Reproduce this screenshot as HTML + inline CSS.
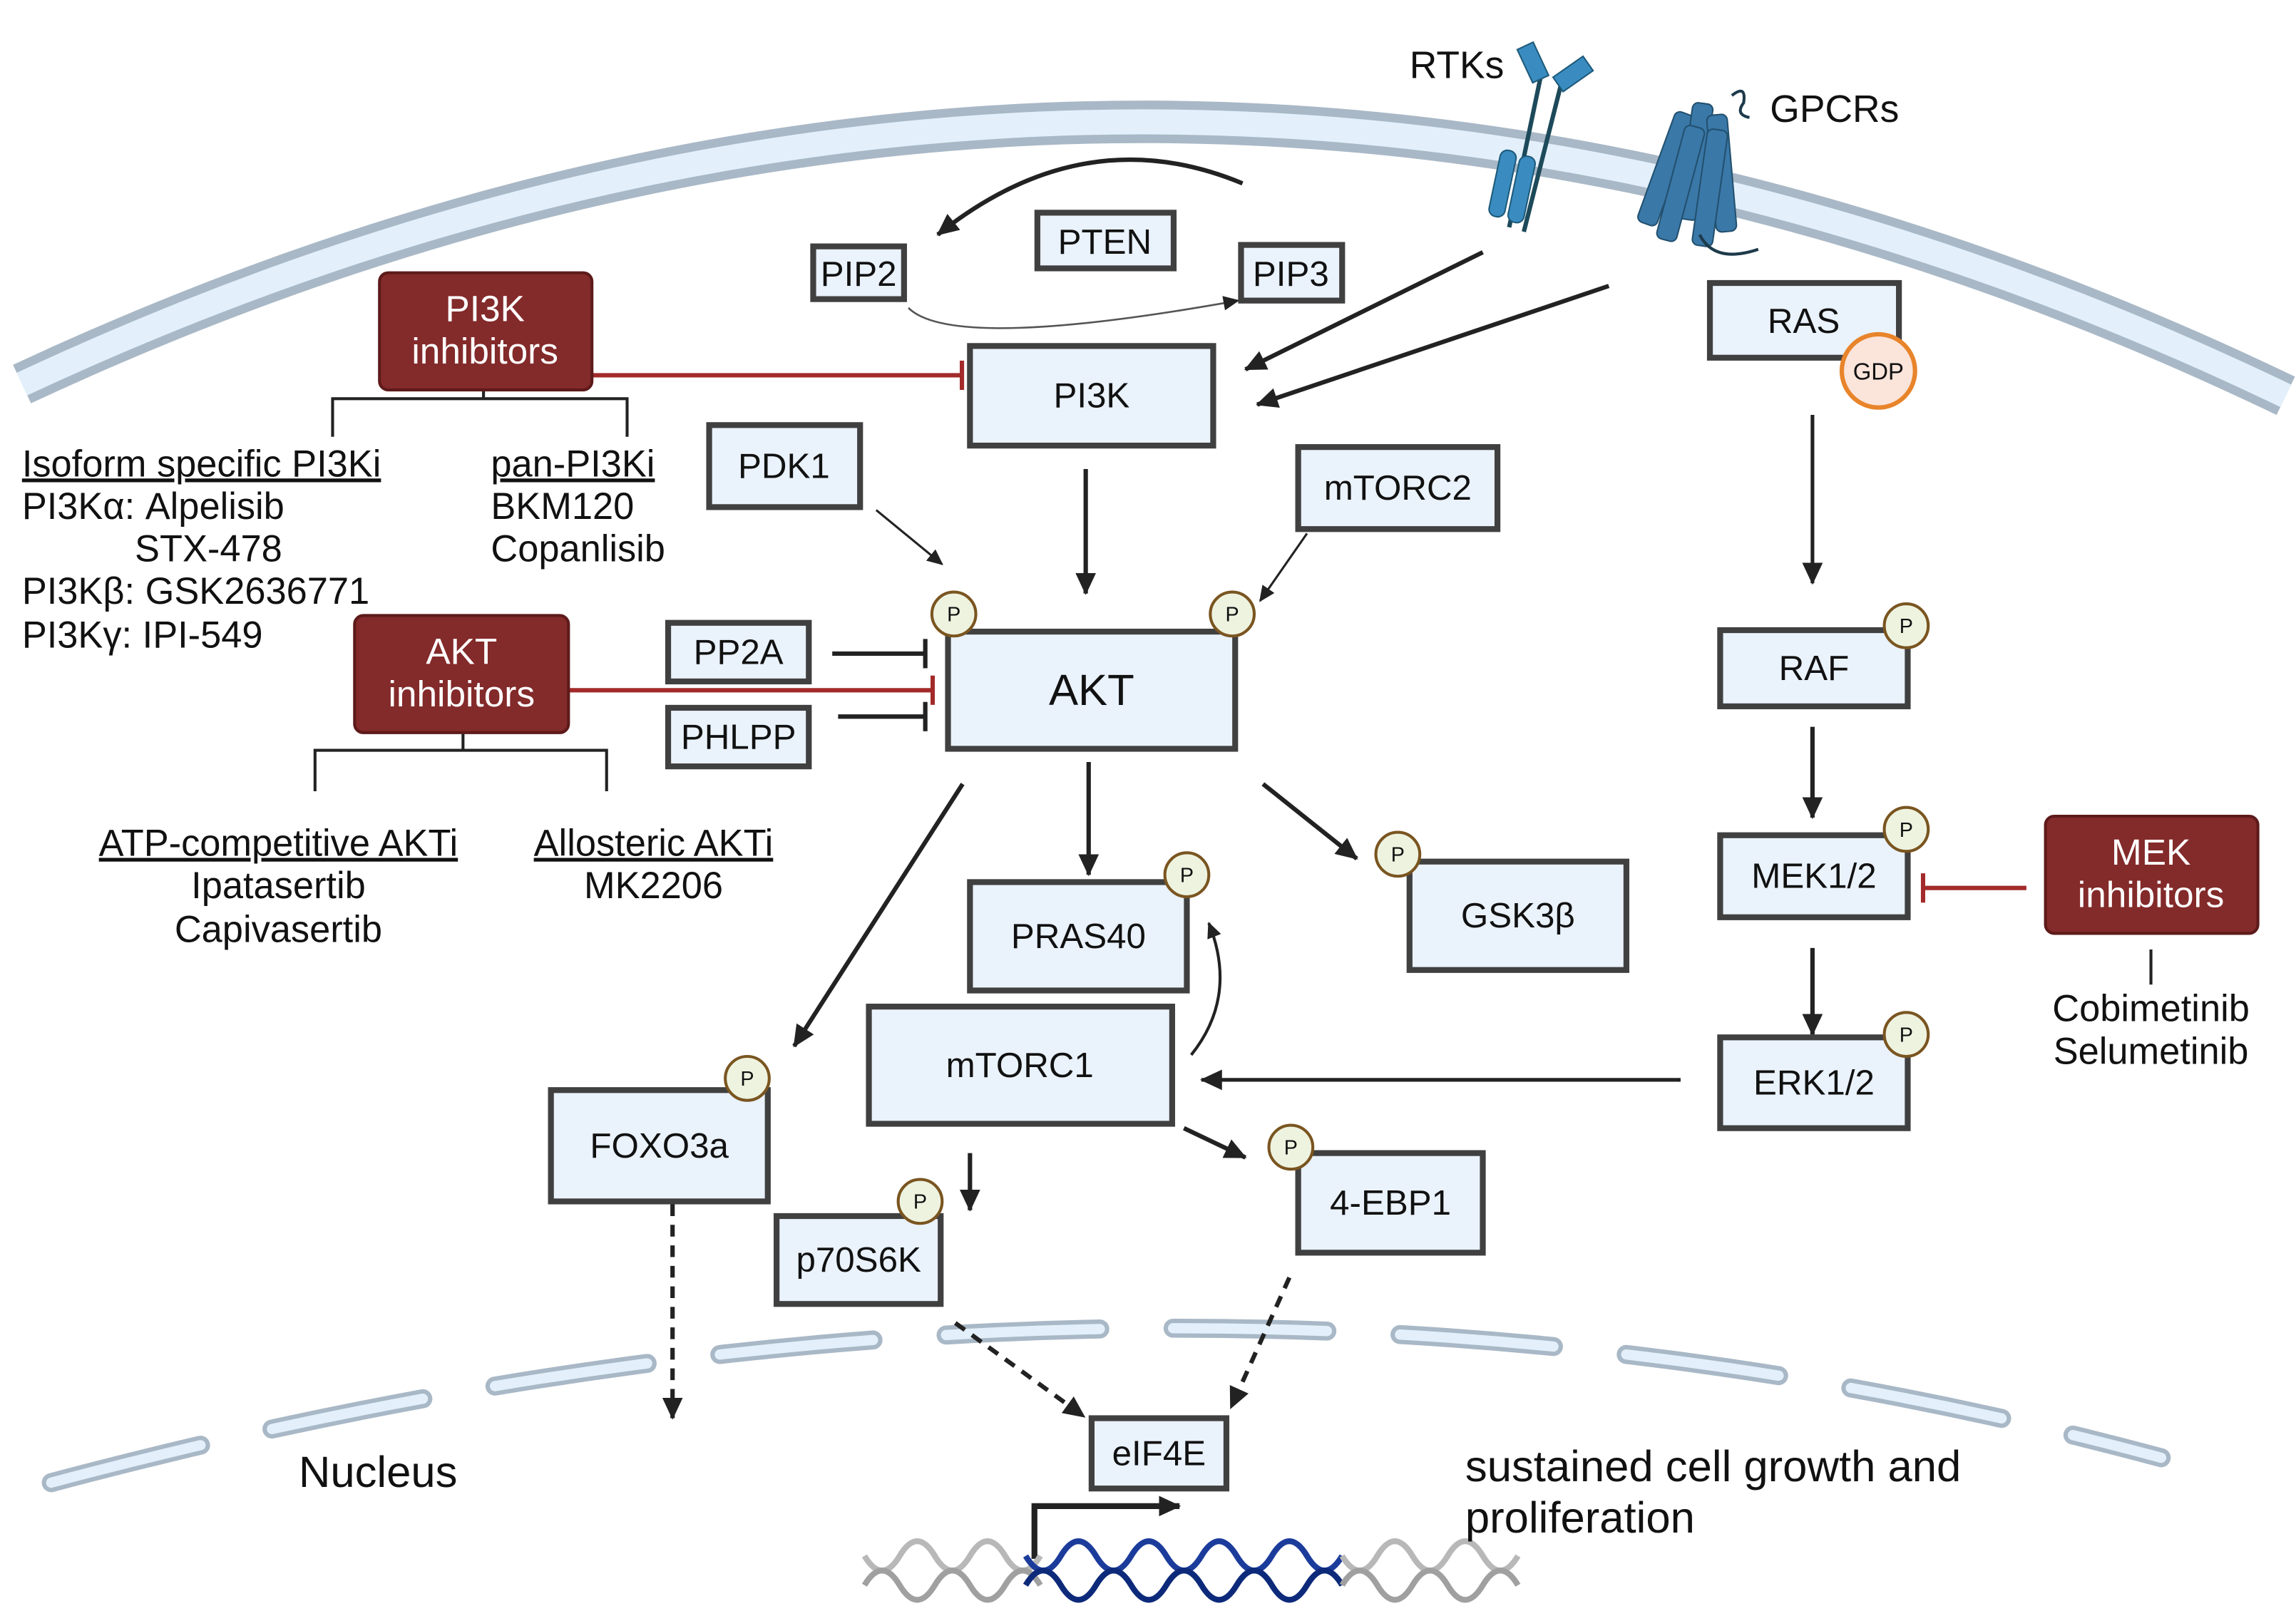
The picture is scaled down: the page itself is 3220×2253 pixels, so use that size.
<!DOCTYPE html>
<html><head><meta charset="utf-8"><style>html,body{margin:0;padding:0;background:#fff}svg{display:block}text{font-family:"Liberation Sans",sans-serif;fill:#111}</style></head><body>
<svg width="3220" height="2253" viewBox="0 0 1567 1096" xmlns="http://www.w3.org/2000/svg">
<defs>
<marker id="a" markerUnits="userSpaceOnUse" markerWidth="20" markerHeight="20" refX="14" refY="8" orient="auto"><path d="M0,1 L15,8 L0,15 z" fill="#222"/></marker>
<marker id="s" markerUnits="userSpaceOnUse" markerWidth="14" markerHeight="14" refX="10" refY="6" orient="auto"><path d="M0,1 L11,6 L0,11 z" fill="#222"/></marker>
<marker id="t" markerUnits="userSpaceOnUse" markerWidth="6" markerHeight="24" refX="2" refY="12" orient="auto"><rect x="0" y="2" width="3" height="20" fill="#222"/></marker>
<marker id="r" markerUnits="userSpaceOnUse" markerWidth="6" markerHeight="24" refX="2" refY="12" orient="auto"><rect x="0" y="2" width="3" height="20" fill="#a32a2a"/></marker>
</defs>
<rect width="1567" height="1096" fill="#fff"/>
<path d="M15,262 Q790,-100 1560,270" fill="none" stroke="#a9b8c6" stroke-width="29"/>
<path d="M15,262 Q790,-100 1560,270" fill="none" stroke="#e3f0fb" stroke-width="17"/>
<path d="M35,1012 Q790,810 1475,995" fill="none" stroke="#a9b8c6" stroke-width="13" stroke-dasharray="105 50" stroke-linecap="round"/>
<path d="M35,1012 Q790,810 1475,995" fill="none" stroke="#e3f0fb" stroke-width="7" stroke-dasharray="105 50" stroke-linecap="round"/>
<g stroke="#1d4a5a" stroke-width="3" fill="none"><line x1="1053" y1="45" x2="1030" y2="155"/><line x1="1066" y1="55" x2="1040" y2="158"/></g>
<g fill="#3a8cc0" stroke="#1d5a7a" stroke-width="1">
<rect x="1040" y="30" width="12" height="25" transform="rotate(-25 1046 42)"/>
<rect x="1068" y="38" width="12" height="25" transform="rotate(55 1074 50)"/>
<rect x="1020" y="102" width="11" height="46" rx="5" transform="rotate(12 1025 125)"/>
<rect x="1033" y="106" width="11" height="46" rx="5" transform="rotate(12 1038 129)"/>
</g>
<g fill="#3a78a8" stroke="#22506e" stroke-width="1">
<rect x="1130" y="75" width="14" height="80" rx="4" transform="rotate(20 1137 115)"/>
<rect x="1150" y="70" width="14" height="80" rx="4" transform="rotate(8 1157 110)"/>
<rect x="1168" y="78" width="14" height="80" rx="4" transform="rotate(-5 1175 118)"/>
<rect x="1140" y="85" width="14" height="80" rx="4" transform="rotate(15 1147 125)"/>
<rect x="1160" y="88" width="14" height="80" rx="4" transform="rotate(8 1167 128)"/>
</g>
<path d="M1182,65 q10,-8 8,5 q-6,8 4,10 M1160,160 q10,20 40,10" fill="none" stroke="#1d3a4a" stroke-width="2"/>
<text x="962" y="53" font-size="26">RTKs</text>
<text x="1208" y="83" font-size="26">GPCRs</text>
<g stroke="#222" stroke-width="3" fill="none">
<path d="M848,125 Q740,80 640,160" marker-end="url(#a)"/>
<line x1="1012" y1="172" x2="850" y2="252" marker-end="url(#a)"/>
<line x1="1098" y1="195" x2="858" y2="276" marker-end="url(#a)"/>
<line x1="741" y1="320" x2="741" y2="405" marker-end="url(#a)"/>
<line x1="598" y1="348" x2="643" y2="385" stroke-width="1.5" marker-end="url(#s)"/>
<line x1="892" y1="364" x2="860" y2="410" stroke-width="1.5" marker-end="url(#s)"/>
<line x1="568" y1="446" x2="632" y2="446" marker-end="url(#t)"/>
<line x1="572" y1="489" x2="632" y2="489" marker-end="url(#t)"/>
<line x1="743" y1="520" x2="743" y2="597" marker-end="url(#a)"/>
<line x1="862" y1="535" x2="926" y2="586" marker-end="url(#a)"/>
<line x1="657" y1="535" x2="542" y2="714" marker-end="url(#a)"/>
<path d="M813,720 Q845,680 825,630" stroke-width="2" marker-end="url(#s)"/>
<line x1="1147" y1="737" x2="820" y2="737" stroke-width="2.5" marker-end="url(#a)"/>
<line x1="1237" y1="283" x2="1237" y2="398" stroke-width="2.5" marker-end="url(#a)"/>
<line x1="1237" y1="496" x2="1237" y2="558" marker-end="url(#a)"/>
<line x1="1237" y1="647" x2="1237" y2="706" marker-end="url(#a)"/>
<line x1="662" y1="787" x2="662" y2="826" marker-end="url(#a)"/>
<line x1="808" y1="770" x2="850" y2="790" marker-end="url(#a)"/>
<g stroke-dasharray="8 6" stroke-width="3">
<line x1="459" y1="822" x2="459" y2="968" marker-end="url(#a)"/>
<line x1="652" y1="903" x2="740" y2="967" marker-end="url(#a)"/>
<line x1="880" y1="872" x2="840" y2="961" marker-end="url(#a)"/>
</g>
<path d="M706,1064 V1028 H805" stroke-width="4" marker-end="url(#a)"/>
<path d="M330,266 V272 M227,298 V272 H428 V298 M316,500 V512 M215,540 V512 H414 V540 M1468,648 V672" stroke-width="2"/>
</g>
<path d="M620,210 Q650,240 845,205" fill="none" stroke="#555" stroke-width="1.3" marker-end="url(#s)"/>
<g stroke="#a32a2a" stroke-width="3" fill="none">
<line x1="404" y1="256" x2="657" y2="256" marker-end="url(#r)"/>
<line x1="388" y1="471" x2="637" y2="471" marker-end="url(#r)"/>
<line x1="1383" y1="606" x2="1312" y2="606" marker-end="url(#r)"/>
</g>
<g fill="none" stroke-width="4">
<path d="M590,1062 q12,20 24,0 t24,0 t24,0 t24,0 t24,0" stroke="#b8b8b8"/>
<path d="M590,1082 q12,-20 24,0 t24,0 t24,0 t24,0 t24,0" stroke="#a0a0a0"/>
<path d="M700,1062 q12,20 24,0 t24,0 t24,0 t24,0 t24,0 t24,0 t24,0 t24,0 t24,0" stroke="#1c3c9c"/>
<path d="M700,1082 q12,-20 24,0 t24,0 t24,0 t24,0 t24,0 t24,0 t24,0 t24,0 t24,0" stroke="#0d2a7a"/>
<path d="M916,1062 q12,20 24,0 t24,0 t24,0 t24,0 t24,0" stroke="#b8b8b8"/>
<path d="M916,1082 q12,-20 24,0 t24,0 t24,0 t24,0 t24,0" stroke="#a0a0a0"/>
</g>
<g fill="#eaf2fc" stroke="#404040" stroke-width="4">
<rect x="555" y="168" width="62" height="36"/>
<rect x="708" y="145" width="93" height="38"/>
<rect x="847" y="167" width="69" height="38"/>
<rect x="662" y="236" width="166" height="68"/>
<rect x="1167" y="193" width="129" height="51"/>
<rect x="484" y="290" width="103" height="56"/>
<rect x="886" y="305" width="136" height="56"/>
<rect x="647" y="431" width="196" height="80"/>
<rect x="456" y="425" width="96" height="40"/>
<rect x="456" y="483" width="96" height="40"/>
<rect x="1174" y="430" width="128" height="52"/>
<rect x="1174" y="570" width="128" height="56"/>
<rect x="1174" y="708" width="128" height="62"/>
<rect x="662" y="602" width="148" height="74"/>
<rect x="962" y="588" width="148" height="74"/>
<rect x="593" y="687" width="207" height="80"/>
<rect x="376" y="744" width="148" height="76"/>
<rect x="530" y="830" width="112" height="60"/>
<rect x="886" y="787" width="126" height="68"/>
<rect x="745" y="968" width="92" height="48"/>
</g>
<g fill="#832a2a" stroke="#5e1a1a" stroke-width="2">
<rect x="259" y="186" width="145" height="80" rx="6"/>
<rect x="242" y="420" width="146" height="80" rx="6"/>
<rect x="1396" y="557" width="145" height="80" rx="6"/>
</g>
<circle cx="1282" cy="253" r="25" fill="#fbe4da" stroke="#e8842a" stroke-width="3"/>
<g fill="#eef3e0" stroke="#7a5520" stroke-width="2">
<circle cx="651" cy="419" r="15"/><circle cx="841" cy="419" r="15"/>
<circle cx="1301" cy="427" r="15"/><circle cx="1301" cy="566" r="15"/><circle cx="1301" cy="706" r="15"/>
<circle cx="810" cy="597" r="15"/><circle cx="954" cy="583" r="15"/><circle cx="510" cy="736" r="15"/>
<circle cx="628" cy="820" r="15"/><circle cx="881" cy="783" r="15"/>
</g>
<g font-size="14" text-anchor="middle">
<text x="651" y="424">P</text><text x="841" y="424">P</text><text x="1301" y="432">P</text><text x="1301" y="571">P</text><text x="1301" y="711">P</text><text x="810" y="602">P</text><text x="954" y="588">P</text><text x="510" y="741">P</text><text x="628" y="825">P</text><text x="881" y="788">P</text>
<text x="1282" y="259" font-size="16">GDP</text>
</g>
<g font-size="24" text-anchor="middle">
<text x="586" y="195">PIP2</text><text x="754" y="173">PTEN</text><text x="881" y="195">PIP3</text>
<text x="745" y="278">PI3K</text><text x="1231" y="227">RAS</text><text x="535" y="326">PDK1</text><text x="954" y="341">mTORC2</text>
<text x="745" y="481" font-size="30">AKT</text><text x="504" y="453">PP2A</text><text x="504" y="511">PHLPP</text>
<text x="1238" y="464">RAF</text><text x="1238" y="606">MEK1/2</text><text x="1238" y="747">ERK1/2</text>
<text x="736" y="647">PRAS40</text><text x="1036" y="633">GSK3β</text><text x="696" y="735">mTORC1</text>
<text x="450" y="790">FOXO3a</text><text x="586" y="868">p70S6K</text><text x="949" y="829">4-EBP1</text><text x="791" y="1000">eIF4E</text>
</g>
<g font-size="25" text-anchor="middle">
<text x="331" y="219" style="fill:#fff">PI3K</text><text x="331" y="248" style="fill:#fff">inhibitors</text>
<text x="315" y="453" style="fill:#fff">AKT</text><text x="315" y="482" style="fill:#fff">inhibitors</text>
<text x="1468" y="590" style="fill:#fff">MEK</text><text x="1468" y="619" style="fill:#fff">inhibitors</text>
</g>
<g font-size="25.5">
<text x="15" y="325" text-decoration="underline">Isoform specific PI3Ki</text>
<text x="15" y="354">PI3Kα: Alpelisib</text>
<text x="92" y="383">STX-478</text>
<text x="15" y="412">PI3Kβ: GSK2636771</text>
<text x="15" y="442">PI3Kγ: IPI-549</text>
<text x="335" y="325" text-decoration="underline">pan-PI3Ki</text>
<text x="335" y="354">BKM120</text>
<text x="335" y="383">Copanlisib</text>
</g>
<g font-size="25.5" text-anchor="middle">
<text x="190" y="584" text-decoration="underline">ATP-competitive  AKTi</text>
<text x="190" y="613">Ipatasertib</text>
<text x="190" y="643">Capivasertib</text>
<text x="446" y="584" text-decoration="underline">Allosteric AKTi</text>
<text x="446" y="613">MK2206</text>
<text x="1468" y="697">Cobimetinib</text>
<text x="1468" y="726">Selumetinib</text>
</g>
<text x="258" y="1015" font-size="30" text-anchor="middle">Nucleus</text>
<text x="1000" y="1011" font-size="30">sustained cell growth and</text>
<text x="1000" y="1046" font-size="30">proliferation</text>
</svg>
</body></html>
